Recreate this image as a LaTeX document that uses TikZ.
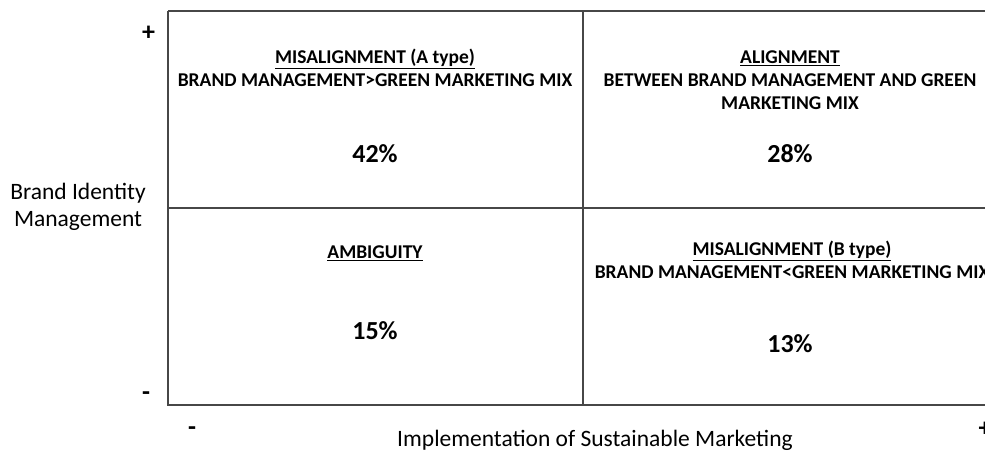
\documentclass[tikz,border=0pt]{standalone}
\usepackage{fontspec}
\setmainfont{Carlito}
\begin{document}
\begin{tikzpicture}[x=1pt,y=-1pt,
  gridline/.style={draw=black!72,line width=1.3pt},
  head/.style={font=\fontsize{19.5}{23}\selectfont\bfseries,align=center,inner sep=0pt},
  pct/.style={font=\fontsize{26}{30}\selectfont\bfseries,inner sep=0pt},
  axislbl/.style={font=\fontsize{23.5}{27}\selectfont,align=center,inner sep=0pt},
  sign/.style={font=\fontsize{26}{30}\selectfont\bfseries,inner sep=0pt}]
  \useasboundingbox (0,0) rectangle (985,452);
  \clip (0,0) rectangle (985,452);
  % quadrant frame
  \draw[gridline] (168,11) -- (1000,11);
  \draw[gridline] (168,11) -- (168,405) -- (1000,405);
  \draw[gridline] (168,208) -- (1000,208);
  \draw[gridline] (583,11) -- (583,405);
  % axis signs
  \node[sign] (ytop) at (148.5,33) {+};
  \node[sign] (ybot) at (146,396) {-};
  \node[sign] (xlow) at (192,431) {-};
  \node[sign] (xhigh) at (985,429) {+};
  % axis labels
  \node[axislbl] (ylab) at (78,207) {Brand Identity\\Management};
  \node[axislbl] (xlab) at (595,440) {Implementation of Sustainable Marketing};
  % top-left quadrant
  \node[head] (q1) at (375,68) {\underline{MISALIGNMENT (A type)}\\BRAND MANAGEMENT>GREEN MARKETING MIX};
  \node[pct] (p1) at (375,154) {42\%};
  % top-right quadrant
  \node[head] (q2) at (790,80) {\underline{ALIGNMENT}\\BETWEEN BRAND MANAGEMENT AND GREEN\\MARKETING MIX};
  \node[pct] (p2) at (790,154) {28\%};
  % bottom-left quadrant
  \node[head] (q3) at (375,253) {\underline{AMBIGUITY}};
  \node[pct] (p3) at (375,331) {15\%};
  % bottom-right quadrant
  \node[head] (q4) at (792,260) {\underline{MISALIGNMENT (B type)}\\BRAND MANAGEMENT<GREEN MARKETING MIX};
  \node[pct] (p4) at (790,344) {13\%};
\end{tikzpicture}
\end{document}
